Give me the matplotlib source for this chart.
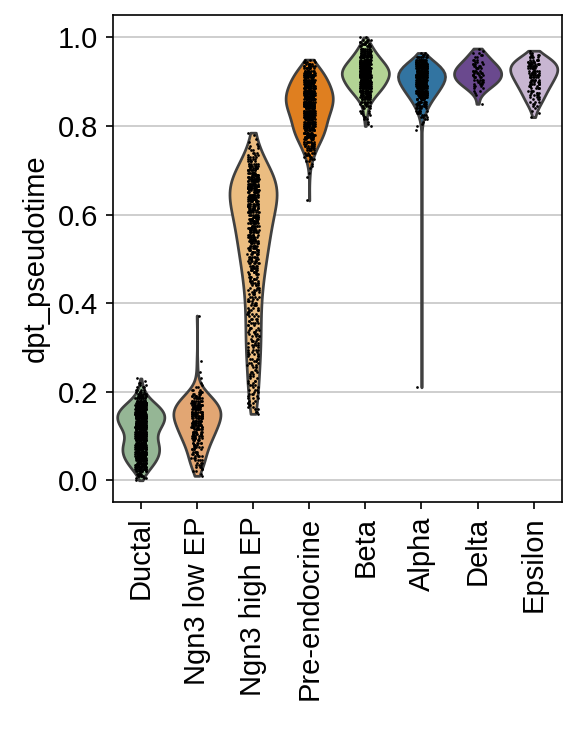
import numpy as np
import pandas as pd
import matplotlib
matplotlib.use("Agg")
import matplotlib.pyplot as plt
import seaborn as sns

# Grupos y colores
categorias = ["Ductal", "Ngn3 low EP", "Ngn3 high EP", "Pre-endocrine",
              "Beta", "Alpha", "Delta", "Epsilon"]
colores = ["#8fbc8f", "#f4a460", "#fdbf6f", "#ff7f00",
           "#b2df8a", "#1f78b4", "#6a3d9a", "#cab2d6"]

# Conteos de células por intervalo de 0.005 en dpt_pseudotime
paso = 0.005

ductal_inicio = 0.0
ductal_conteos = [1, 3, 5, 7, 10, 13, 15, 18, 21, 23,
                  25, 26, 27, 28, 28, 28, 27, 25, 24, 23,
                  22, 23, 24, 27, 29, 32, 34, 35, 36, 37,
                  36, 34, 32, 29, 25, 20, 16, 12, 9, 7,
                  5, 4, 3, 2, 2, 1, 1]
ductal_extra = []

low_inicio = 0.010
low_conteos = [1, 1, 2, 2, 3, 3, 3, 4, 3, 4,
               4, 4, 5, 5, 5, 6, 6, 7, 7, 8,
               8, 8, 9, 9, 10, 10, 10, 11, 11, 11,
               11, 10, 10, 9, 8, 7, 6, 5, 4, 3,
               2, 1, 1]
low_extra = [0.232, 0.245, 0.27, 0.372]

high_inicio = 0.150
high_conteos = [1, 2, 2, 2, 2, 3, 2, 3, 2, 3,
                2, 3, 2, 3, 2, 3, 2, 3, 2, 3,
                2, 3, 3, 3, 3, 4, 3, 4, 3, 4,
                3, 4, 3, 4, 3, 4, 3, 4, 3, 4,
                3, 4, 3, 4, 3, 4, 3, 4, 3, 4,
                3, 4, 3, 4, 4, 4, 4, 4, 4, 5,
                4, 5, 5, 5, 5, 5, 5, 6, 6, 6,
                6, 6, 7, 6, 7, 7, 7, 7, 8, 7,
                8, 8, 8, 8, 8, 8, 9, 9, 9, 9,
                8, 9, 9, 10, 10, 11, 11, 12, 12, 13,
                13, 14, 14, 14, 13, 13, 12, 11, 11, 10,
                9, 8, 7, 6, 5, 4, 4, 3, 3, 2,
                2, 2, 1, 1, 1, 0, 1, 1]
high_extra = []

pre_inicio = 0.700
pre_conteos = [0, 1, 1, 1, 2, 3, 3, 4, 5, 5,
               6, 7, 8, 9, 10, 11, 12, 12, 13, 14,
               14, 14, 14, 15, 15, 16, 17, 18, 18, 19,
               19, 20, 20, 20, 20, 19, 19, 18, 17, 16,
               16, 15, 14, 13, 12, 10, 9, 8, 6, 5,
               3]
pre_extra = [0.632, 0.685, 0.695]

beta_inicio = 0.800
beta_conteos = [1, 1, 1, 2, 2, 2, 3, 3, 3, 5,
                5, 8, 9, 12, 14, 17, 19, 22, 24, 26,
                27, 29, 30, 32, 32, 31, 30, 28, 26, 23,
                21, 18, 16, 14, 12, 10, 8, 7, 5, 4,
                2]
beta_extra = []

alpha_inicio = 0.800
alpha_conteos = [1, 1, 1, 2, 3, 3, 4, 6, 6, 8,
                 9, 11, 12, 14, 16, 19, 20, 21, 23, 25,
                 26, 28, 29, 29, 28, 27, 25, 22, 19, 16,
                 12, 8, 4, 2]
alpha_extra = [0.21, 0.79]

delta_inicio = 0.850
delta_conteos = [1, 0, 0, 0, 1, 1, 2, 2, 3, 4,
                 4, 5, 5, 5, 5, 5, 5, 4, 4, 3,
                 3, 2, 2, 2, 1, 1]
delta_extra = []

eps_inicio = 0.820
eps_conteos = [1, 0, 1, 1, 1, 2, 2, 3, 3, 3,
               4, 4, 4, 5, 5, 6, 6, 6, 7, 7,
               8, 8, 8, 8, 8, 7, 6, 5, 4, 2,
               1]
eps_extra = []

grupos = [
    (ductal_inicio, ductal_conteos, ductal_extra),
    (low_inicio, low_conteos, low_extra),
    (high_inicio, high_conteos, high_extra),
    (pre_inicio, pre_conteos, pre_extra),
    (beta_inicio, beta_conteos, beta_extra),
    (alpha_inicio, alpha_conteos, alpha_extra),
    (delta_inicio, delta_conteos, delta_extra),
    (eps_inicio, eps_conteos, eps_extra),
]

# Tabla larga: una fila por célula
filas = []
for nombre, (inicio, conteos, extra) in zip(categorias, grupos):
    valores = inicio + paso * np.arange(len(conteos))
    v = np.concatenate([np.repeat(valores, conteos), np.array(extra, dtype=float)])
    filas.append(pd.DataFrame({"grupo": nombre, "dpt_pseudotime": v}))
df = pd.concat(filas, ignore_index=True)

plt.rcParams["font.family"] = ["Liberation Sans", "DejaVu Sans"]
plt.rcParams["font.size"] = 14

fig, ax = plt.subplots(figsize=(578 / 150, 729 / 150), dpi=150)
fig.subplots_adjust(left=0.195, right=0.972, bottom=0.3114, top=0.979)

ax.yaxis.grid(True, color="#cccccc", linewidth=0.9)
ax.xaxis.grid(False)
ax.set_axisbelow(True)

sns.violinplot(data=df, x="grupo", y="dpt_pseudotime", hue="grupo", order=categorias,
               hue_order=categorias, palette=colores, density_norm="width", cut=0,
               width=0.84, inner=None, linewidth=1.3, linecolor="#404040",
               legend=False, ax=ax)
sns.stripplot(data=df, x="grupo", y="dpt_pseudotime", order=categorias, color="black",
              size=1.3, jitter=True, ax=ax)

ax.set_xlim(-0.5, len(categorias) - 0.5)
ax.set_ylim(-0.049, 1.050)
ax.set_yticks([0.0, 0.2, 0.4, 0.6, 0.8, 1.0])
ax.set_yticklabels(["0.0", "0.2", "0.4", "0.6", "0.8", "1.0"])
ax.set_xlabel("")
ax.set_ylabel("dpt_pseudotime")
ax.tick_params(axis="x", labelrotation=90)
for s in ax.spines.values():
    s.set_color("black")
    s.set_linewidth(0.8)

fig.savefig("out.png", dpi=150)
